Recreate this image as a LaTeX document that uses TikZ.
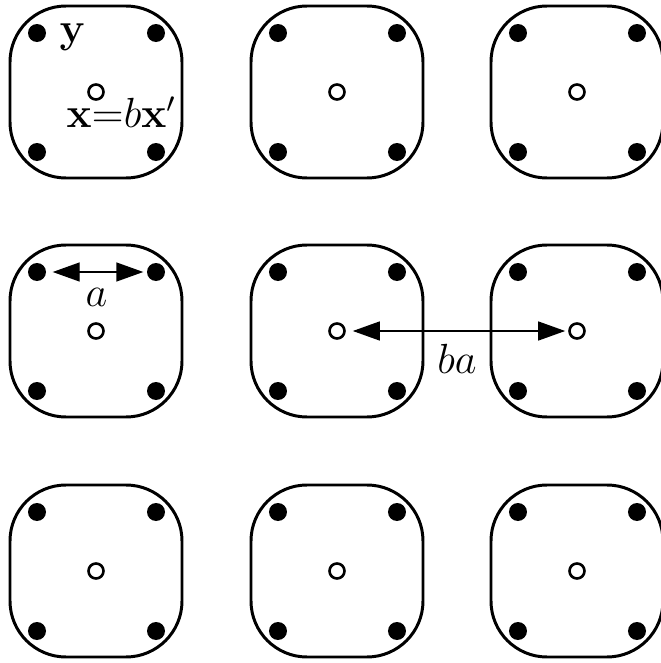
\documentclass[tikz,border=0pt]{standalone}
\usepackage{amsmath,amssymb}
\usetikzlibrary{arrows.meta,positioning}

\begin{document}
\begin{tikzpicture}[
    cell/.style={rectangle, rounded corners=5.6mm, draw, line width=0.85pt,
                 minimum width=1.72cm, minimum height=1.72cm, inner sep=0pt},
    site/.style={circle, fill, inner sep=0pt, minimum size=1.8mm},
    centre/.style={circle, draw, line width=0.75pt, fill=white,
                   inner sep=0pt, minimum size=1.5mm},
    lbl/.style={font=\fontsize{12}{14}\selectfont, inner sep=0pt},
    span/.style={<->, line width=0.4pt},
    >={Triangle[length=2.7mm,width=1.9mm]}
  ]
  \useasboundingbox (0,0) rectangle (6.6,6.63);
  % 3x3 grid of cells, four sites and a centre each
  \foreach \col/\x in {1/0.96,2/3.37,3/5.77}
    \foreach \row/\y in {1/5.71,2/3.32,3/0.92} {
      \node[cell] (b\row\col) at (\x,\y) {};
      \node[centre] (c\row\col) at (\x,\y) {};
      \node[site] (tl\row\col) at ([shift={(-5.9mm,5.9mm)}]c\row\col) {};
      \node[site] (tr\row\col) at ([shift={(6mm,5.9mm)}]c\row\col) {};
      \node[site] (bl\row\col) at ([shift={(-5.9mm,-6mm)}]c\row\col) {};
      \node[site] (br\row\col) at ([shift={(6mm,-6mm)}]c\row\col) {};
    }
  \node[lbl, anchor=base west] (ylab) at ([shift={(2.2mm,-0.9mm)}]tl11) {$\mathbf{y}$};
  \node[lbl, anchor=base] (xlab) at ([shift={(2.55mm,-3.6mm)}]c11) {$\mathbf{x}{=}b\mathbf{x}'$};
  \draw[span, shorten <=0.6mm, shorten >=0.3mm] (tl21) -- (tr21)
    node[lbl, midway, anchor=base, yshift=-3.4mm] (alab) {$a$};
  \draw[span, shorten <=0.7mm, shorten >=0.3mm] (c22) -- (c23)
    node[lbl, midway, anchor=base, yshift=-4.2mm] (balab) {$ba$};
\end{tikzpicture}
\end{document}
